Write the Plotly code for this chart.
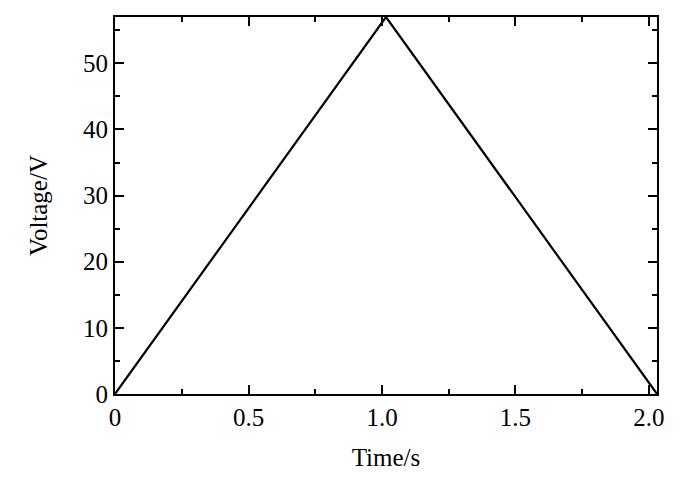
import plotly.graph_objects as go

# triangle voltage sweep
time_s = [0, 1.015, 2.03]
voltage_v = [0, 57, 0]

x_ticks = [0, 0.5, 1.0, 1.5, 2.0]
x_labels = ["0", "0.5", "1.0", "1.5", "2.0"]
y_ticks = [0, 10, 20, 30, 40, 50]

serif = dict(family="Liberation Serif", size=25, color="black")

fig = go.Figure()
fig.add_trace(go.Scatter(
    x=time_s, y=voltage_v, mode="lines",
    line=dict(color="black", width=2.2),
    showlegend=False, cliponaxis=False,
))

axis_style = dict(
    showline=True, linecolor="black", linewidth=2, mirror="allticks",
    ticks="inside", ticklen=9, tickwidth=2, tickcolor="black",
    showgrid=False, zeroline=False,
    tickfont=serif,
)

fig.update_xaxes(
    range=[0, 2.03], tickvals=x_ticks, ticktext=x_labels,
    minor=dict(dtick=0.25, tick0=0, ticks="inside", ticklen=5, tickwidth=2, tickcolor="black"),
    title=dict(text="Time/s", font=serif, standoff=18),
    **axis_style,
)
fig.update_yaxes(
    range=[0, 57], tickvals=y_ticks,
    minor=dict(dtick=5, tick0=0, ticks="inside", ticklen=5, tickwidth=2, tickcolor="black"),
    title=dict(text="Voltage/V", font=serif, standoff=28),
    **axis_style,
)

# page body has an 8px margin, so offsets are shifted
fig.update_layout(
    width=700, height=483,
    plot_bgcolor="white", paper_bgcolor="white",
    margin=dict(l=107, r=51, t=7, b=97),
)

fig.write_html("out.html")
